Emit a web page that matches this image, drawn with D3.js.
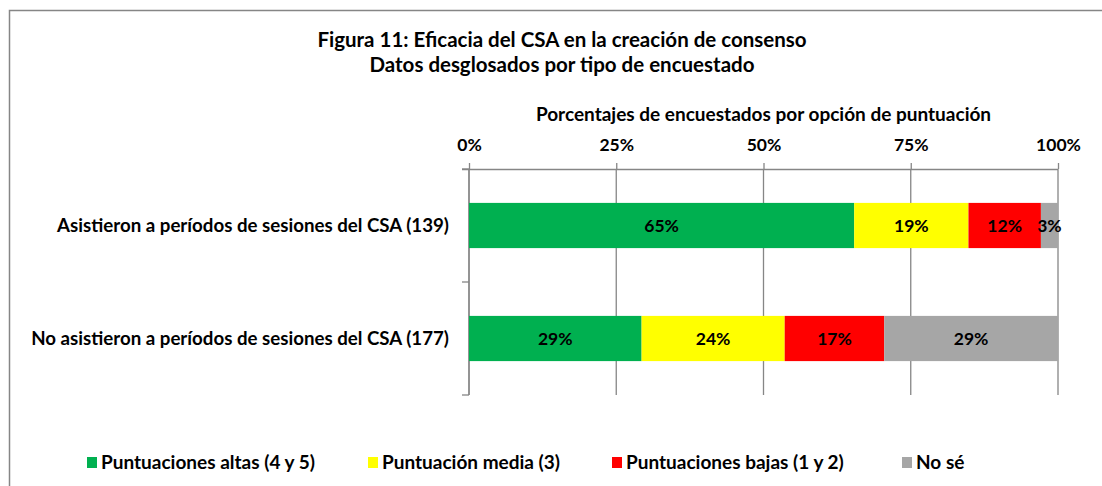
<!DOCTYPE html>
<html>
<head>
<meta charset="utf-8">
<script src="https://cdn.jsdelivr.net/npm/d3@7"></script>
<style>
  body { margin: 0; background: #fff; }
  text { font-family: Lato, 'Open Sans', sans-serif; font-weight: bold; fill: #000; }
</style>
</head>
<body>
<svg id="chart" width="1102" height="486"></svg>
<script>
// values (fractions of respondents)
const categories = [
  'Asistieron a períodos de sesiones del CSA (139)',
  'No asistieron a períodos de sesiones del CSA (177)',
];
const seriesNames = [
  'Puntuaciones altas (4 y 5)',
  'Puntuación media (3)',
  'Puntuaciones bajas (1 y 2)',
  'No sé',
];
const altas = [0.654, 0.293];
const media = [0.194, 0.243];
const bajas = [0.123, 0.169];
const noSe = [0.029, 0.295];
const tickValues = [0, 0.25, 0.5, 0.75, 1];

const colors = ['#00b050', '#ffff00', '#ff0000', '#a6a6a6'];
const gridColor = '#868686';

const rows = categories.map((c, i) => ({
  category: c,
  [seriesNames[0]]: altas[i],
  [seriesNames[1]]: media[i],
  [seriesNames[2]]: bajas[i],
  [seriesNames[3]]: noSe[i],
}));

const svg = d3.select('#chart');
const plot = { left: 469, right: 1058, top: 169, bottom: 395 };

// outer chart border (cut off on the right and bottom)
svg.append('path')
  .attr('d', 'M9.5,1000V10.5H1200')
  .attr('fill', 'none')
  .attr('stroke', gridColor)
  .attr('stroke-width', 1.5);

// titles
svg.append('text')
  .attr('x', 562).attr('y', 47)
  .attr('text-anchor', 'middle')
  .style('font-size', '20.5px')
  .text('Figura 11: Eficacia del CSA en la creación de consenso');
svg.append('text')
  .attr('x', 562).attr('y', 72)
  .attr('text-anchor', 'middle')
  .style('font-size', '20.5px')
  .text('Datos desglosados por tipo de encuestado');

const x = d3.scaleLinear().domain([0, 1]).range([plot.left, plot.right]);
const y = d3.scaleBand()
  .domain(categories)
  .range([plot.top, plot.bottom])
  .paddingInner(0.6)
  .paddingOuter(0.3);

// axis title
svg.append('text')
  .attr('x', (plot.left + plot.right) / 2).attr('y', 121)
  .attr('text-anchor', 'middle')
  .style('font-size', '19px')
  .text('Porcentajes de encuestados por opción de puntuación');

// vertical gridlines
svg.append('g')
  .selectAll('line')
  .data(tickValues)
  .join('line')
  .attr('x1', (d) => x(d)).attr('x2', (d) => x(d))
  .attr('y1', plot.top).attr('y2', plot.bottom)
  .attr('stroke', gridColor)
  .attr('stroke-width', 1.3);

// top value axis
const xAxisG = svg.append('g')
  .attr('transform', `translate(0,${plot.top})`)
  .call(d3.axisTop(x).tickValues(tickValues).tickSize(6).tickPadding(12).tickFormat(d3.format('.0%')));
xAxisG.select('.domain').attr('stroke', gridColor).attr('stroke-width', 1.3)
  .attr('d', `M${plot.left - 7},0.5H${plot.right}`);
xAxisG.selectAll('.tick line').attr('stroke', gridColor).attr('stroke-width', 1.3);
xAxisG.selectAll('.tick text')
  .style('font-size', '17.5px')
  .style('font-family', null);

// left category axis: line with ticks at band boundaries
const boundaries = [plot.top, (plot.top + plot.bottom) / 2, plot.bottom];
svg.append('line')
  .attr('x1', plot.left).attr('x2', plot.left)
  .attr('y1', plot.top).attr('y2', plot.bottom)
  .attr('stroke', gridColor).attr('stroke-width', 1.3);
svg.append('g')
  .selectAll('line')
  .data(boundaries)
  .join('line')
  .attr('x1', plot.left - 7).attr('x2', plot.left)
  .attr('y1', (d) => d).attr('y2', (d) => d)
  .attr('stroke', gridColor).attr('stroke-width', 1.3);

svg.append('g')
  .selectAll('text')
  .data(categories)
  .join('text')
  .attr('x', plot.left - 20)
  .attr('y', (d) => y(d) + y.bandwidth() / 2 + 6)
  .attr('text-anchor', 'end')
  .style('font-size', '18.7px')
  .text((d) => d);

// stacked bars
const stacked = d3.stack().keys(seriesNames)(rows);
const layers = svg.append('g')
  .selectAll('g')
  .data(stacked)
  .join('g')
  .attr('fill', (d, i) => colors[i]);

layers.selectAll('rect')
  .data((d) => d)
  .join('rect')
  .attr('x', (d) => x(d[0]))
  .attr('y', (d) => y(d.data.category))
  .attr('width', (d) => x(d[1]) - x(d[0]))
  .attr('height', y.bandwidth());

layers.selectAll('text')
  .data((d) => d)
  .join('text')
  .attr('x', (d) => (x(d[0]) + x(d[1])) / 2)
  .attr('y', (d) => y(d.data.category) + y.bandwidth() / 2 + 6)
  .attr('text-anchor', 'middle')
  .style('font-size', '17.5px')
  .text((d) => d3.format('.0%')(d[1] - d[0]));

// legend
const legendX = [87, 368, 612, 902];
const legend = svg.append('g')
  .selectAll('g')
  .data(seriesNames)
  .join('g')
  .attr('transform', (d, i) => `translate(${legendX[i]},463)`);
legend.append('rect')
  .attr('x', 0).attr('y', -6)
  .attr('width', 10).attr('height', 11)
  .attr('fill', (d, i) => colors[i]);
legend.append('text')
  .attr('x', 14).attr('y', 6)
  .style('font-size', '19px')
  .text((d) => d);
</script>
</body>
</html>
